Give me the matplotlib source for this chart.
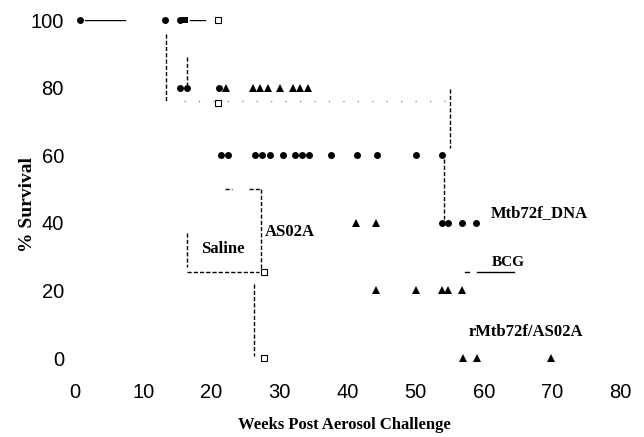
import matplotlib
matplotlib.use("Agg")
import matplotlib.pyplot as plt

# Censored subjects (weeks, % survival)
circle_weeks = [0.7, 13.2, 15.4, 15.4, 16.4, 21.1, 21.4, 22.4, 26.4, 27.5, 28.6, 30.5,
                32.3, 33.3, 34.4, 37.6, 41.4, 44.3, 50.1, 53.9, 53.9, 54.8, 56.8, 58.9]
circle_surv = [100, 100, 100, 80, 80, 80, 60, 60, 60, 60, 60, 60,
               60, 60, 60, 60, 60, 60, 60, 60, 40, 40, 40, 40]

square_weeks = [16.2]
square_surv = [100]

triangle_weeks = [22.2, 26.1, 27.2, 28.3, 30.1, 32.0, 33.0, 34.2,
                  41.3, 44.2,
                  44.2, 50.1, 53.9, 54.8, 56.8,
                  57.0, 59.0, 69.9]
triangle_surv = [80, 80, 80, 80, 80, 80, 80, 80,
                 40, 40,
                 20, 20, 20, 20, 20,
                 0, 0, 0]

open_weeks = [21.0, 21.0, 27.8, 27.8]
open_surv = [100, 75.5, 25.5, 0]

# Step segments still visible in the scan: (week start, week end, % start, % end)
solid_steps = [(1.5, 7.3, 100, 100), (16.9, 19.1, 100, 100), (59.0, 64.5, 25.5, 25.5),
               (57.3, 57.9, 25.5, 25.5)]
dashed_steps = [(13.3, 13.3, 96, 76), (16.4, 16.4, 89, 79), (55.0, 55.0, 79.5, 62),
                (54.2, 54.2, 59, 41), (27.3, 27.3, 50, 26), (16.4, 16.4, 37, 27),
                (26.3, 26.3, 22, 0.5), (16.4, 27.0, 25.5, 25.5),
                (22.0, 23.0, 50, 50), (25.5, 27.3, 50, 50)]
dotted_steps = [(16.0, 55.0, 76, 76)]

labels = ["Mtb72f_DNA", "BCG", "AS02A", "Saline", "rMtb72f/AS02A"]
label_weeks = [61.0, 61.2, 27.9, 18.5, 57.8]
label_surv = [42.9, 28.4, 37.3, 32.2, 7.7]
label_sizes = [12, 11, 12, 12, 12]

fig = plt.figure(figsize=(6.44, 4.37), dpi=100)
ax = fig.add_axes([75 / 644, 79 / 437, 545 / 644, 338 / 437])

for x0, x1, y0, y1 in solid_steps:
    ax.plot([x0, x1], [y0, y1], color="black", lw=1.0)
for x0, x1, y0, y1 in dashed_steps:
    ax.plot([x0, x1], [y0, y1], color="black", lw=1.0, ls=(0, (3, 1.5)))
for x0, x1, y0, y1 in dotted_steps:
    ax.plot([x0, x1], [y0, y1], color="black", lw=0.8, ls=(0, (1, 12)), alpha=0.6)

ax.plot(circle_weeks, circle_surv, "o", color="black", ms=5, mew=0, clip_on=False)
ax.plot(square_weeks, square_surv, "s", color="black", ms=5, mew=0, clip_on=False)
ax.plot(triangle_weeks, triangle_surv, "^", color="black", ms=6, mew=0, clip_on=False)
ax.plot(open_weeks, open_surv, "s", mfc="none", mec="black", ms=4, mew=0.8, clip_on=False)

for text, x, y, size in zip(labels, label_weeks, label_surv, label_sizes):
    ax.text(x, y, text, ha="left", va="center", fontsize=size,
            fontweight="bold", family="Liberation Serif")

ax.set_xlim(0, 80)
ax.set_ylim(0, 100)
ax.set_xticks(range(0, 81, 10))
ax.set_yticks(range(0, 101, 20))
for s in ax.spines.values():
    s.set_visible(False)
ax.tick_params(axis="both", length=0, labelsize=14.5)
ax.tick_params(axis="x", pad=18)
ax.tick_params(axis="y", pad=8)
for lab in ax.get_xticklabels() + ax.get_yticklabels():
    lab.set_family("Liberation Sans")

ax.set_xlabel("Weeks Post Aerosol Challenge", fontsize=12, fontweight="bold",
              family="Liberation Serif")
ax.set_ylabel("% Survival", fontsize=14, fontweight="bold",
              family="Liberation Serif")
ax.xaxis.set_label_coords(0.495, -0.175)
ax.yaxis.set_label_coords(-0.088, 0.453)
ax.xaxis.label.set_va("top")
ax.yaxis.label.set_va("center")

fig.savefig("out.png", dpi=100)
